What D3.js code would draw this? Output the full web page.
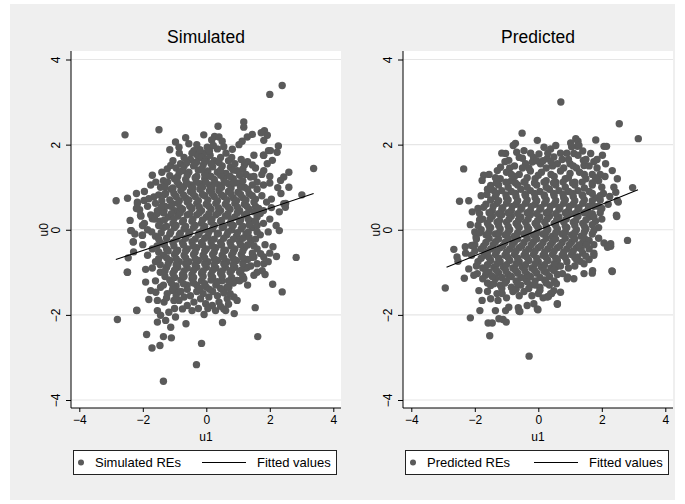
<!DOCTYPE html>
<html>
<head>
<meta charset="utf-8">
<script src="https://d3js.org/d3.v7.min.js"></script>
<style>
  html, body { margin: 0; padding: 0; background: #fff; }
  svg { display: block; font-family: "Liberation Sans", Arial, Helvetica, sans-serif; }
</style>
</head>
<body>
<svg width="685" height="504"></svg>
<script>
// tick values shared by both panels
const tickVals = [-4, -2, 0, 2, 4];

// simulated random effects [u1, u0]
const simPoints = [
  [2.39,3.39],[2.00,3.18],[-2.56,2.23],[-1.49,2.35],[0.37,2.43],[1.18,2.53],[1.18,2.41],[3.38,1.44],[-2.84,0.68],[-2.48,0.74],
  [3.01,0.82],[2.83,-0.65],[-2.80,-2.11],[-2.19,-1.89],[-1.88,-2.46],[-1.71,-2.78],[-1.46,-2.72],[-1.35,-2.51],[-1.10,-2.54],[-1.35,-3.56],
  [-0.31,-3.17],[-0.15,-2.67],[-0.64,-2.21],[-0.07,-1.99],[0.51,-2.18],[0.88,-1.97],[1.54,-1.83],[1.62,-2.51],[2.09,-1.28],[2.39,-1.46],
  [2.21,-0.63],[-2.49,-1.00],[-1.91,-0.93],[-2.36,-0.02],[-2.30,-0.28],[-2.29,-0.52],[-2.46,-0.66],[-2.06,0.32],[-2.02,-0.13],[-2.10,0.47],
  [-2.17,0.65],[2.44,0.61],[2.27,1.97],[1.96,1.86],[1.80,1.75],
  [1.83,2.33],[1.73,2.28],[1.92,2.22],[1.81,2.10],[1.45,2.24],[1.29,2.18],[1.13,2.08],[1.03,2.0],[0.82,1.89],[-0.08,2.23],
  [0.26,2.19],[0.40,2.18],[0.50,2.08],[0.17,2.11],[0.03,1.94],[-0.97,2.06],[-0.86,1.94],[-0.65,2.16],[-0.55,2.02],[-1.15,1.88],
  [-0.39,1.86],[-0.28,1.75],[-0.08,1.80],[2.02,1.86],[2.23,1.82],[1.81,1.75],[1.50,1.75],[1.92,1.55],[2.08,1.63],[1.81,1.39],
  [2.44,1.24],[2.34,1.16],[2.25,0.99],[2.49,0.53],[0.76,1.47],[0.97,1.39],[1.39,1.24],[1.60,1.12],
  [-1.70,1.28],[-1.59,1.12],[-1.44,1.00],[-1.23,1.43],[-1.12,1.51],[-0.81,1.55],[-0.75,1.39],[-1.28,0.85],[-1.65,0.77],[-1.96,0.69],
  [-2.17,0.61],[-2.07,0.34],[-2.01,0.10],[-2.38,-0.02],[-2.30,-0.29],[-2.01,-0.13],[-1.70,0.26],[-1.54,0.45],[-1.33,0.45],[-1.81,0.73],[-1.07,0.61],
  [-2.48,-1.00],[-1.91,-1.23],[-1.75,-1.43],[-1.59,-1.47],[-1.44,-1.35],[-1.81,-1.64],[-1.54,-1.66],[-1.33,-1.70],[-2.19,-1.90],[-1.54,-1.90],
  [-1.44,-2.01],[-1.54,-2.17],[-1.28,-2.13],[-1.12,-2.29],[-0.97,-2.05],[-1.18,-1.94],[0.66,-1.62],[0.87,-1.58],[0.97,-1.66],[0.40,-1.70],
  [0.55,-1.86],[0.29,-1.90],[0.61,-1.90],[0.71,-1.35],[1.50,-1.07],[1.18,-1.15],[0.97,-1.19],[1.29,-0.88],[1.81,-0.80],[1.76,-0.96],
  [1.81,-0.64],[1.71,-0.56],[1.50,-0.64],[-0.18,-1.62],[0.08,-1.58],[0.19,-1.78],[-0.02,-1.74],[-0.39,-1.70],[-0.60,-1.78],[-0.75,-1.86],
  [-0.86,-1.66],[-1.02,-1.66],[-0.70,-1.58],[-1.07,-1.43],[-0.91,-1.47],[-1.23,-1.50],
  [-0.5,1.65],[-0.3,1.6],[-0.15,1.7],[0.0,1.65],[0.12,1.75],[0.25,1.62],[0.35,1.9],[0.45,1.7],[0.62,1.8],[0.7,1.62],[-0.7,1.7],[-1.05,1.62],[1.1,1.65],[1.3,1.6],[1.45,1.52],
  [-1.4,1.35],[-0.95,1.45],[-0.7,1.5],[-0.55,1.35],[-0.4,1.5],[-0.25,1.4],[-0.1,1.52],[0.05,1.38],[0.2,1.48],[0.35,1.35],[0.5,1.5],[0.62,1.32],[1.15,1.42],[1.25,1.3],[1.75,1.3],[2.0,1.25],[2.6,1.35],[1.55,1.45],
  [-1.75,1.05],[-1.35,1.15],[-1.0,1.2],[-0.85,1.05],[-0.65,1.18],[-0.5,1.05],[-0.35,1.22],[-0.2,1.08],[-0.05,1.2],[0.1,1.05],[0.25,1.18],[0.4,1.05],[0.55,1.2],[0.7,1.08],[0.85,1.2],[1.0,1.1],[1.2,1.0],[1.45,1.05],[1.8,1.05],[2.0,1.1],[2.6,1.0],
  [-2.2,0.85],[-1.95,0.9],[-1.5,0.82],[-1.1,0.95],[-0.95,0.78],[-0.8,0.92],[-0.65,0.75],[-0.5,0.9],[-0.35,0.78],[-0.2,0.95],[-0.05,0.8],[0.1,0.92],[0.25,0.78],[0.4,0.92],[0.55,0.78],[0.7,0.9],[0.85,0.75],[1.0,0.88],[1.15,0.75],[1.35,0.85],[1.55,0.72],[1.75,0.8],[2.05,0.72],[2.35,0.85],
  [-2.2,0.5],[-1.85,0.55],[-1.6,0.62],[-1.3,0.55],[-1.0,0.45],[-0.9,0.62],[-0.75,0.48],[-0.6,0.65],[-0.45,0.5],[-0.3,0.62],[-0.15,0.45],[0.0,0.6],[0.15,0.48],[0.3,0.62],[0.45,0.45],[0.6,0.6],[0.75,0.48],[0.9,0.62],[1.05,0.45],[1.2,0.6],[1.35,0.48],[1.55,0.55],[1.8,0.45],[2.05,0.52],[2.3,0.42],[2.5,0.62],
  [-2.4,0.22],[-1.95,0.15],[-1.75,0.35],[-1.45,0.2],[-1.2,0.3],[-1.05,0.15],[-0.9,0.32],[-0.75,0.18],[-0.6,0.35],[-0.45,0.2],[-0.3,0.35],[-0.15,0.15],[0.0,0.3],[0.15,0.18],[0.3,0.35],[0.45,0.2],[0.6,0.32],[0.75,0.15],[0.9,0.3],[1.05,0.18],[1.2,0.35],[1.4,0.2],[1.6,0.3],[1.8,0.15],[2.0,0.25],[2.2,0.1],
  [-2.25,-0.1],[-1.85,0.0],[-1.6,-0.15],[-1.35,0.05],[-1.15,-0.1],[-1.0,0.05],[-0.85,-0.12],[-0.7,0.02],[-0.55,-0.1],[-0.4,0.05],[-0.25,-0.12],[-0.1,0.0],[0.05,-0.15],[0.2,0.02],[0.35,-0.1],[0.5,0.05],[0.65,-0.12],[0.8,0.0],[0.95,-0.15],[1.1,0.02],[1.25,-0.1],[1.45,0.05],[1.7,-0.12],[1.95,-0.05],[2.3,-0.02],
  [-2.0,-0.35],[-1.7,-0.45],[-1.45,-0.3],[-1.25,-0.45],[-1.05,-0.3],[-0.9,-0.48],[-0.75,-0.3],[-0.6,-0.45],[-0.45,-0.28],[-0.3,-0.42],[-0.15,-0.3],[0.0,-0.45],[0.15,-0.28],[0.3,-0.42],[0.45,-0.3],[0.6,-0.48],[0.75,-0.3],[0.9,-0.45],[1.05,-0.28],[1.2,-0.42],[1.4,-0.3],[1.6,-0.45],[1.85,-0.35],[2.1,-0.4],
  [-1.85,-0.6],[-1.6,-0.75],[-1.35,-0.6],[-1.15,-0.72],[-1.0,-0.58],[-0.85,-0.75],[-0.7,-0.6],[-0.55,-0.75],[-0.4,-0.58],[-0.25,-0.72],[-0.1,-0.6],[0.05,-0.75],[0.2,-0.58],[0.35,-0.72],[0.5,-0.6],[0.65,-0.75],[0.8,-0.6],[0.95,-0.72],[1.1,-0.58],[1.3,-0.7],[1.6,-0.8],[1.95,-0.75],[2.0,-0.55],
  [-1.7,-0.9],[-1.45,-1.0],[-1.25,-0.88],[-1.05,-1.02],[-0.9,-0.88],[-0.75,-1.05],[-0.6,-0.9],[-0.45,-1.05],[-0.3,-0.88],[-0.15,-1.02],[0.0,-0.88],[0.15,-1.05],[0.3,-0.9],[0.45,-1.02],[0.6,-0.88],[0.75,-1.0],[0.9,-0.88],[1.05,-1.0],[1.25,-0.9],[1.6,-1.0],[1.85,-1.05],
  [-1.6,-1.2],[-1.35,-1.3],[-1.15,-1.18],[-0.95,-1.32],[-0.8,-1.18],[-0.6,-1.3],[-0.45,-1.15],[-0.3,-1.3],[-0.15,-1.2],[0.0,-1.35],[0.15,-1.18],[0.3,-1.3],[0.5,-1.2],[0.65,-1.35],[0.85,-1.25],[1.05,-1.2],[1.3,-1.3],
  [-1.25,-1.6],[-0.95,-1.55],[-0.8,-1.45],[-0.5,-1.55],[-0.3,-1.45],[-0.1,-1.5],[0.2,-1.45],[0.35,-1.55],[0.55,-1.48],[0.75,-1.5],
  [-1.0,-1.85],[-0.45,-1.9],[-0.25,-1.85],[0.05,-1.85],[0.45,-1.8],[0.7,-1.75],
  [-0.62,1.57],[-0.35,1.55],[-0.05,1.6],[0.15,1.55],[0.4,1.58],[0.9,1.55],[1.2,1.52],
  [-1.15,1.27],[-0.9,1.25],[-0.6,1.28],[-0.3,1.25],[-0.05,1.3],[0.15,1.25],[0.45,1.28],[0.75,1.25],[1.05,1.28],[1.5,1.25],
  [-1.3,1.0],[-1.05,0.98],[-0.72,1.0],[-0.42,0.98],[-0.12,1.0],[0.18,0.98],[0.48,1.0],[0.78,0.98],[1.08,1.0],[1.3,0.95],[1.6,0.95],
  [-1.4,0.68],[-1.15,0.7],[-0.85,0.68],[-0.55,0.7],[-0.25,0.68],[0.05,0.7],[0.35,0.68],[0.65,0.7],[0.95,0.68],[1.25,0.7],[1.5,0.65],[1.9,0.65],
  [-1.55,0.38],[-1.35,0.4],[-1.1,0.38],[-0.82,0.4],[-0.52,0.38],[-0.22,0.4],[0.08,0.38],[0.38,0.4],[0.68,0.38],[0.98,0.4],[1.28,0.38],[1.5,0.42],[1.7,0.38],
  [-1.5,0.1],[-1.25,0.08],[-0.95,0.1],[-0.65,0.08],[-0.35,0.1],[-0.05,0.08],[0.25,0.1],[0.55,0.08],[0.85,0.1],[1.15,0.08],[1.35,0.12],[1.6,0.1],
  [-1.5,-0.22],[-1.25,-0.2],[-0.95,-0.22],[-0.65,-0.2],[-0.35,-0.22],[-0.05,-0.2],[0.25,-0.22],[0.55,-0.2],[0.85,-0.22],[1.15,-0.2],[1.35,-0.18],[1.55,-0.22],
  [-1.5,-0.52],[-1.2,-0.5],[-0.95,-0.52],[-0.65,-0.5],[-0.35,-0.52],[-0.05,-0.5],[0.25,-0.52],[0.55,-0.5],[0.85,-0.52],[1.15,-0.5],[1.45,-0.55],
  [-1.45,-0.82],[-1.2,-0.8],[-0.95,-0.82],[-0.65,-0.8],[-0.35,-0.82],[-0.05,-0.8],[0.25,-0.82],[0.55,-0.8],[0.85,-0.82],[1.15,-0.8],[1.4,-0.85],
  [-1.3,-1.1],[-1.0,-1.12],[-0.7,-1.1],[-0.4,-1.12],[-0.1,-1.1],[0.2,-1.12],[0.5,-1.1],[0.8,-1.12],[1.15,-1.1],
  [-1.05,-1.38],[-0.6,-1.4],[-0.2,-1.38],[0.1,-1.4],[0.45,-1.38],
  [-1.22,1.12],[-0.92,1.13],[-0.62,1.1],[-0.32,1.12],[-0.02,1.13],[0.28,1.1],[0.58,1.12],[0.88,1.1],[1.15,1.15],
  [-1.32,0.83],[-1.02,0.85],[-0.72,0.82],[-0.42,0.85],[-0.12,0.83],[0.18,0.85],[0.48,0.82],[0.78,0.84],[1.08,0.83],[1.45,0.8],
  [-1.42,0.53],[-1.12,0.55],[-0.82,0.52],[-0.52,0.55],[-0.22,0.53],[0.08,0.55],[0.38,0.52],[0.68,0.54],[0.98,0.53],[1.28,0.55],[1.65,0.5],
  [-1.62,0.25],[-1.32,0.23],[-1.02,0.25],[-0.72,0.22],[-0.42,0.25],[-0.12,0.23],[0.18,0.25],[0.48,0.22],[0.78,0.25],[1.08,0.23],[1.32,0.25],[1.55,0.2],
  [-1.72,-0.05],[-1.42,-0.07],[-1.12,-0.05],[-0.82,-0.08],[-0.52,-0.05],[-0.22,-0.07],[0.08,-0.05],[0.38,-0.08],[0.68,-0.05],[0.98,-0.07],[1.32,-0.05],[1.6,-0.05],
  [-1.55,-0.38],[-1.32,-0.35],[-1.02,-0.38],[-0.72,-0.36],[-0.42,-0.38],[-0.12,-0.35],[0.18,-0.38],[0.48,-0.36],[0.78,-0.38],[1.08,-0.35],[1.3,-0.36],[1.5,-0.38],
  [-1.5,-0.68],[-1.25,-0.66],[-0.95,-0.68],[-0.65,-0.66],[-0.35,-0.68],[-0.05,-0.66],[0.25,-0.68],[0.55,-0.66],[0.85,-0.68],[1.15,-0.66],[1.45,-0.65],
  [-1.3,-0.97],[-1.0,-0.95],[-0.7,-0.97],[-0.4,-0.95],[-0.1,-0.97],[0.2,-0.95],[0.5,-0.97],[0.8,-0.95],[1.1,-0.95],
  [-1.1,-1.25],[-0.72,-1.27],[-0.4,-1.25],[-0.05,-1.27],[0.35,-1.22],[0.7,-1.2],
  [-0.45,1.8],[-0.2,1.88],[0.1,1.85],[0.22,1.98],[-0.3,2.0],[0.55,1.95],[0.8,1.7],[-0.85,1.8],[-0.15,1.42],[0.45,1.4],[0.85,1.4],[-0.85,1.35]
];

// predicted random effects [u1, u0]
const predPoints = [
  [0.71,3.0],[2.55,2.49],[3.15,2.14],[-0.51,2.27],[-0.03,2.10],[-2.35,1.43],[-2.48,0.67],[-2.19,0.68],[-2.08,0.42],[-2.14,0.12],
  [-1.96,-0.17],[-2.66,-0.46],[-2.56,-0.64],[-2.29,-0.55],[-2.53,-0.74],[-2.33,-1.14],[-2.93,-1.37],[-2.14,-2.07],[-1.84,-1.90],[-1.58,-2.19],
  [-1.45,-2.19],[-1.53,-2.49],[-1.24,-2.09],[-1.11,-2.11],[-1.01,-2.17],[-0.29,-2.97],[-0.61,-1.91],[-0.35,-1.78],[-0.03,-1.86],[0.60,-1.75],
  [0.32,-1.57],[0.42,-1.5],[0.57,-1.27],[2.32,-0.97],[2.81,-0.25],[2.07,-0.31],[2.18,-0.37],[2.28,-0.39],[2.97,0.99],[2.44,0.88],
  [2.52,0.65],[2.46,0.34],[1.81,2.11],[2.07,1.96],[2.15,1.96],[1.18,2.14],[1.25,2.08],[1.23,1.96],[1.02,2.04],[1.71,-0.96],
  [1.44,-1.03],[1.32,-0.74],[0.92,-1.11],[0.76,-1.03],[0.55,-0.88],
  [-0.72,2.03],[-0.79,1.98],[-0.68,1.82],[-1.03,1.79],[-0.93,1.63],[-1.19,1.47],[-1.29,1.39],[-1.72,1.28],[-1.77,1.16],[-1.50,1.04],
  [-1.40,0.92],[-0.45,1.86],[-0.24,1.80],[0.02,1.78],[0.18,1.94],[0.39,1.90],[0.55,1.98],[0.28,1.67],[0.49,1.71],[0.60,1.55],
  [0.07,1.55],[-0.19,1.59],[-0.40,1.55],[1.28,1.98],[1.12,1.79],[1.42,1.63],[1.44,1.51],[1.65,1.79],[2.02,1.75],[2.12,1.55],
  [2.33,1.39],[2.49,1.20],[2.38,1.00],[2.49,0.69],[2.47,0.31],[2.28,-0.33],[2.18,-0.41],
  [-1.27,-1.66],[-1.35,-1.90],[-1.03,-1.90],[-0.93,-1.82],[-0.63,-1.83],[-0.58,-1.92],[-0.14,-1.74],[-0.01,-1.88],[0.60,-1.74],[0.39,-1.50],
  [0.28,-1.58],[0.70,-1.47],[0.49,-1.43],[0.91,-1.15],[1.12,-1.15],[1.70,-1.02],[2.33,-0.98],[1.44,-0.80],[1.75,-0.60],[1.23,-0.64],
  [-1.87,-1.43],[-1.77,-1.66],[-1.50,-1.62],[-1.14,-1.50],[-1.50,-1.31],[-1.66,-1.07],[-1.92,-1.03],[-2.03,-1.07],[-2.19,-0.92],
  [-0.9,1.45],[-0.6,1.7],[-0.3,1.45],[0.25,1.45],[0.45,1.5],[0.75,1.65],[0.9,1.8],[0.8,1.45],[1.0,1.55],[1.2,1.45],[1.6,1.5],[1.85,1.45],[1.25,1.75],[-1.05,1.6],[-1.15,1.8],
  [-1.2,1.2],[-1.0,1.35],[-0.85,1.15],[-0.6,1.3],[-0.45,1.12],[-0.25,1.38],[-0.1,1.2],[0.1,1.35],[0.25,1.15],[0.4,1.3],[0.55,1.12],[0.7,1.38],[0.85,1.2],[1.0,1.32],[1.15,1.12],[1.3,1.35],[1.5,1.2],[1.7,1.3],[1.9,1.15],[2.1,1.25],[-1.55,1.3],
  [-1.8,0.8],[-1.6,0.95],[-1.35,0.78],[-1.15,0.92],[-1.0,0.75],[-0.85,0.9],[-0.7,0.78],[-0.55,0.95],[-0.4,0.8],[-0.25,0.92],[-0.1,0.75],[0.05,0.9],[0.2,0.78],[0.35,0.95],[0.5,0.8],[0.65,0.92],[0.8,0.75],[0.95,0.9],[1.1,0.78],[1.25,0.92],[1.4,0.8],[1.6,0.9],[1.8,0.75],[2.05,0.85],[2.25,0.78],
  [-1.9,0.5],[-1.65,0.6],[-1.45,0.45],[-1.3,0.62],[-1.15,0.48],[-1.0,0.62],[-0.85,0.45],[-0.7,0.6],[-0.55,0.48],[-0.4,0.62],[-0.25,0.45],[-0.1,0.6],[0.05,0.48],[0.2,0.62],[0.35,0.45],[0.5,0.6],[0.65,0.48],[0.8,0.62],[0.95,0.45],[1.1,0.6],[1.25,0.48],[1.4,0.62],[1.55,0.45],[1.75,0.55],[2.0,0.5],[2.2,0.6],
  [-1.75,0.25],[-1.6,0.15],[-1.45,0.32],[-1.3,0.18],[-1.15,0.35],[-1.0,0.18],[-0.85,0.32],[-0.7,0.15],[-0.55,0.3],[-0.4,0.18],[-0.25,0.35],[-0.1,0.15],[0.05,0.3],[0.2,0.18],[0.35,0.32],[0.5,0.15],[0.65,0.3],[0.8,0.18],[0.95,0.35],[1.1,0.18],[1.25,0.32],[1.4,0.15],[1.6,0.3],[1.8,0.2],[2.0,0.25],[1.9,0.05],
  [-2.0,-0.05],[-1.8,0.0],[-1.65,-0.12],[-1.5,0.05],[-1.35,-0.1],[-1.2,0.02],[-1.05,-0.12],[-0.9,0.0],[-0.75,-0.15],[-0.6,0.05],[-0.45,-0.1],[-0.3,0.02],[-0.15,-0.12],[0.0,0.05],[0.15,-0.1],[0.3,0.0],[0.45,-0.15],[0.6,0.02],[0.75,-0.1],[0.9,0.05],[1.05,-0.12],[1.2,0.0],[1.35,-0.15],[1.5,0.02],[1.7,-0.1],[1.9,-0.2],
  [-2.3,-0.4],[-2.0,-0.35],[-1.8,-0.45],[-1.65,-0.3],[-1.5,-0.45],[-1.35,-0.28],[-1.2,-0.42],[-1.05,-0.3],[-0.9,-0.45],[-0.75,-0.28],[-0.6,-0.42],[-0.45,-0.3],[-0.3,-0.45],[-0.15,-0.28],[0.0,-0.42],[0.15,-0.3],[0.3,-0.45],[0.45,-0.28],[0.6,-0.42],[0.75,-0.3],[0.9,-0.45],[1.05,-0.28],[1.2,-0.42],[1.4,-0.3],[1.6,-0.45],[1.75,-0.35],
  [-2.1,-0.6],[-1.9,-0.75],[-1.7,-0.6],[-1.5,-0.72],[-1.35,-0.58],[-1.2,-0.75],[-1.05,-0.6],[-0.9,-0.72],[-0.75,-0.58],[-0.6,-0.75],[-0.45,-0.6],[-0.3,-0.72],[-0.15,-0.58],[0.0,-0.75],[0.15,-0.6],[0.3,-0.72],[0.45,-0.58],[0.6,-0.72],[0.75,-0.6],[0.9,-0.75],[1.05,-0.58],[1.2,-0.7],[1.4,-0.55],[1.6,-0.7],[1.75,-0.55],
  [-1.75,-0.9],[-1.55,-1.0],[-1.4,-0.88],[-1.25,-1.02],[-1.1,-0.88],[-0.95,-1.05],[-0.8,-0.9],[-0.65,-1.02],[-0.5,-0.88],[-0.35,-1.05],[-0.2,-0.9],[-0.05,-1.02],[0.1,-0.88],[0.25,-1.0],[0.4,-0.9],[0.7,-0.85],[0.6,-1.05],
  [-1.35,-1.15],[-1.2,-1.3],[-1.0,-1.2],[-0.85,-1.35],[-0.7,-1.2],[-0.55,-1.3],[-0.4,-1.15],[-0.25,-1.3],[-0.1,-1.2],[0.05,-1.35],[0.2,-1.18],[0.35,-1.3],[-1.6,-1.25],
  [-1.3,-1.5],[-1.0,-1.6],[-0.8,-1.45],[-0.6,-1.55],[-0.45,-1.45],[-0.2,-1.55],[0.0,-1.5],[0.15,-1.6],
  [-0.75,1.5],[-0.5,1.45],[0.4,1.6],[1.5,1.65],[1.75,1.6],[1.95,1.3],[-0.15,1.7],[0.95,1.65],
  [-1.35,1.22],[-0.75,1.25],[-0.35,1.22],[0.0,1.28],[0.5,1.25],[0.95,1.22],[1.45,1.3],[1.8,1.22],
  [-1.5,0.95],[-1.25,1.05],[-0.95,1.0],[-0.65,1.05],[-0.35,1.0],[-0.05,1.05],[0.25,1.0],[0.55,1.05],[0.85,1.0],[1.15,1.05],[1.45,0.98],[1.7,1.05],[2.0,1.0],
  [-1.5,0.7],[-1.25,0.68],[-0.95,0.7],[-0.65,0.68],[-0.35,0.7],[-0.05,0.68],[0.25,0.7],[0.55,0.68],[0.85,0.7],[1.15,0.68],[1.45,0.7],[1.7,0.68],[1.95,0.7],
  [-1.85,0.38],[-1.55,0.4],[-1.25,0.38],[-0.95,0.4],[-0.65,0.38],[-0.35,0.4],[-0.05,0.38],[0.25,0.4],[0.55,0.38],[0.85,0.4],[1.15,0.38],[1.45,0.4],[1.7,0.38],[1.95,0.4],
  [-1.9,0.1],[-1.55,0.08],[-1.25,0.1],[-0.95,0.08],[-0.65,0.1],[-0.35,0.08],[-0.05,0.1],[0.25,0.08],[0.55,0.1],[0.85,0.08],[1.15,0.1],[1.45,0.08],[1.7,0.12],
  [-1.95,-0.22],[-1.55,-0.2],[-1.25,-0.22],[-0.95,-0.2],[-0.65,-0.22],[-0.35,-0.2],[-0.05,-0.22],[0.25,-0.2],[0.55,-0.22],[0.85,-0.2],[1.15,-0.22],[1.45,-0.2],[1.6,-0.25],
  [-2.0,-0.5],[-1.6,-0.52],[-1.3,-0.5],[-1.0,-0.52],[-0.7,-0.5],[-0.4,-0.52],[-0.1,-0.5],[0.2,-0.52],[0.5,-0.5],[0.8,-0.52],[1.1,-0.5],[1.35,-0.45],
  [-1.95,-0.85],[-1.6,-0.82],[-1.3,-0.8],[-1.0,-0.82],[-0.7,-0.8],[-0.4,-0.82],[-0.1,-0.8],[0.2,-0.82],[0.5,-0.8],[0.95,-0.9],[1.15,-0.85],
  [-1.75,-1.15],[-1.45,-1.1],[-1.15,-1.12],[-0.85,-1.1],[-0.55,-1.12],[-0.25,-1.1],[0.05,-1.12],[0.35,-1.1],[0.5,-1.2],
  [-1.6,-1.45],[-1.15,-1.38],[-0.7,-1.4],[-0.3,-1.38],[0.05,-1.42],
  [-1.32,1.1],[-1.02,1.12],[-0.72,1.1],[-0.42,1.13],[-0.12,1.1],[0.18,1.12],[0.48,1.1],[0.78,1.12],[1.08,1.1],[1.38,1.12],[1.7,1.1],
  [-1.62,0.83],[-1.32,0.85],[-1.02,0.82],[-0.72,0.85],[-0.42,0.83],[-0.12,0.85],[0.18,0.82],[0.48,0.85],[0.78,0.83],[1.08,0.85],[1.38,0.82],[1.7,0.85],[1.95,0.8],
  [-1.72,0.53],[-1.42,0.55],[-1.12,0.52],[-0.82,0.55],[-0.52,0.53],[-0.22,0.55],[0.08,0.52],[0.38,0.55],[0.68,0.53],[0.98,0.55],[1.28,0.52],[1.58,0.55],[1.88,0.55],
  [-1.85,0.23],[-1.52,0.25],[-1.22,0.22],[-0.92,0.25],[-0.62,0.23],[-0.32,0.25],[-0.02,0.22],[0.28,0.25],[0.58,0.23],[0.88,0.25],[1.18,0.22],[1.5,0.23],[1.75,0.3],
  [-1.85,-0.07],[-1.55,-0.05],[-1.25,-0.08],[-0.95,-0.05],[-0.65,-0.07],[-0.35,-0.05],[-0.05,-0.08],[0.25,-0.05],[0.55,-0.07],[0.85,-0.05],[1.15,-0.07],[1.45,-0.05],[1.75,-0.02],
  [-2.1,-0.37],[-1.72,-0.38],[-1.42,-0.35],[-1.12,-0.38],[-0.82,-0.36],[-0.52,-0.38],[-0.22,-0.35],[0.08,-0.38],[0.38,-0.36],[0.68,-0.38],[0.98,-0.35],[1.28,-0.36],[1.52,-0.35],
  [-1.8,-0.67],[-1.55,-0.65],[-1.25,-0.67],[-0.95,-0.65],[-0.65,-0.67],[-0.35,-0.65],[-0.05,-0.67],[0.25,-0.65],[0.55,-0.67],[0.85,-0.65],[1.15,-0.65],[1.5,-0.62],
  [-1.65,-0.97],[-1.32,-0.95],[-1.02,-0.97],[-0.72,-0.95],[-0.42,-0.97],[-0.12,-0.95],[0.18,-0.97],[0.48,-0.95],
  [-1.4,-1.27],[-1.05,-1.25],[-0.65,-1.27],[-0.35,-1.22],[-0.1,-1.3],[0.25,-1.25],
  [-0.5,1.68],[-0.05,1.62],[0.3,1.8],[0.7,1.8],[1.05,1.95],[1.4,1.85],[1.85,1.65],[-0.85,1.3],[0.15,1.62],[1.1,1.5]
];

// fitted values (linear fit) end points
const simFitX = [-2.85, 3.38];
const simFitY = [-0.70, 0.85];
const predFitX = [-2.89, 3.14];
const predFitY = [-0.88, 0.94];

const panels = [
  { title: 'Simulated', points: simPoints, fitX: simFitX, fitY: simFitY, legend: 'Simulated REs', left: 71 },
  { title: 'Predicted', points: predPoints, fitX: predFitX, fitY: predFitY, legend: 'Predicted REs', left: 403 }
];

const svg = d3.select('svg');
const markerColor = '#5a5a5a';
const fmt = d => (d < 0 ? '\u2212' + Math.abs(d) : String(d));

// outer graph region
svg.append('rect')
  .attr('x', 10).attr('y', 4)
  .attr('width', 665).attr('height', 496)
  .attr('fill', '#efefef');

const plotW = 270, plotTop = 51, plotBottom = 408;

panels.forEach(p => {
  const x0 = p.left, x1 = p.left + plotW;
  const xScale = d3.scaleLinear().domain([-4, 4]).range([x0 + 8.3, x1 - 7.7]);
  const yScale = d3.scaleLinear().domain([-4, 4]).range([400, 59.5]);

  const g = svg.append('g');

  g.append('rect')
    .attr('x', x0).attr('y', plotTop)
    .attr('width', plotW).attr('height', plotBottom - plotTop)
    .attr('fill', '#fff');

  // horizontal grid
  g.append('g')
    .selectAll('line')
    .data(tickVals)
    .join('line')
    .attr('x1', x0).attr('x2', x1)
    .attr('y1', d => yScale(d)).attr('y2', d => yScale(d))
    .attr('stroke', '#e6e6e6')
    .attr('stroke-width', 1.2);

  // points
  g.append('g')
    .selectAll('circle')
    .data(p.points)
    .join('circle')
    .attr('cx', d => xScale(d[0]))
    .attr('cy', d => yScale(d[1]))
    .attr('r', 3.7)
    .attr('fill', markerColor);

  // fitted line
  g.append('line')
    .attr('x1', xScale(p.fitX[0])).attr('y1', yScale(p.fitY[0]))
    .attr('x2', xScale(p.fitX[1])).attr('y2', yScale(p.fitY[1]))
    .attr('stroke', '#000')
    .attr('stroke-width', 1.1);

  // x axis
  const xAxis = g.append('g')
    .attr('transform', `translate(0,${plotBottom})`)
    .call(d3.axisBottom(xScale).tickValues(tickVals).tickSize(4).tickPadding(3).tickFormat(fmt));
  xAxis.select('.domain').remove();
  xAxis.selectAll('text').attr('font-size', 12).attr('fill', '#000').attr('font-family', null);
  xAxis.selectAll('line').attr('stroke', '#000');

  // y axis
  const yAxis = g.append('g')
    .attr('transform', `translate(${x0},0)`)
    .call(d3.axisLeft(yScale).tickValues(tickVals).tickSize(5).tickFormat(fmt));
  yAxis.select('.domain').remove();
  yAxis.selectAll('line').attr('stroke', '#000');
  yAxis.selectAll('text')
    .attr('font-size', 12).attr('fill', '#000').attr('font-family', null)
    .attr('x', null).attr('dy', null)
    .attr('text-anchor', 'middle')
    .attr('transform', 'translate(-11,0) rotate(-90)');

  g.append('line')
    .attr('x1', x0).attr('x2', x0).attr('y1', plotTop).attr('y2', plotBottom)
    .attr('stroke', '#000');
  g.append('line')
    .attr('x1', x0).attr('x2', x1).attr('y1', plotBottom).attr('y2', plotBottom)
    .attr('stroke', '#000');

  // titles
  g.append('text')
    .attr('x', (x0 + x1) / 2).attr('y', 43)
    .attr('text-anchor', 'middle')
    .attr('font-size', 17.5)
    .text(p.title);

  g.append('text')
    .attr('x', (x0 + x1) / 2).attr('y', 441)
    .attr('text-anchor', 'middle')
    .attr('font-size', 12)
    .text('u1');

  g.append('text')
    .attr('transform', `translate(${x0 - 23.5},${yScale(0)}) rotate(-90)`)
    .attr('text-anchor', 'middle')
    .attr('font-size', 12)
    .text('u0');

  // legend
  const lx = x0 + 2;
  const lg = g.append('g').attr('transform', `translate(${lx},450)`);
  lg.append('rect')
    .attr('x', 0.5).attr('y', 0.5)
    .attr('width', 263).attr('height', 24)
    .attr('fill', '#fff')
    .attr('stroke', '#222');
  lg.append('circle')
    .attr('cx', 8).attr('cy', 12.5).attr('r', 3)
    .attr('fill', markerColor);
  lg.append('text')
    .attr('x', 22).attr('y', 17)
    .attr('font-size', 13)
    .text(p.legend);
  lg.append('line')
    .attr('x1', 129).attr('x2', 173)
    .attr('y1', 12.5).attr('y2', 12.5)
    .attr('stroke', '#000');
  lg.append('text')
    .attr('x', 184).attr('y', 17)
    .attr('font-size', 13)
    .text('Fitted values');
});
</script>
</body>
</html>
